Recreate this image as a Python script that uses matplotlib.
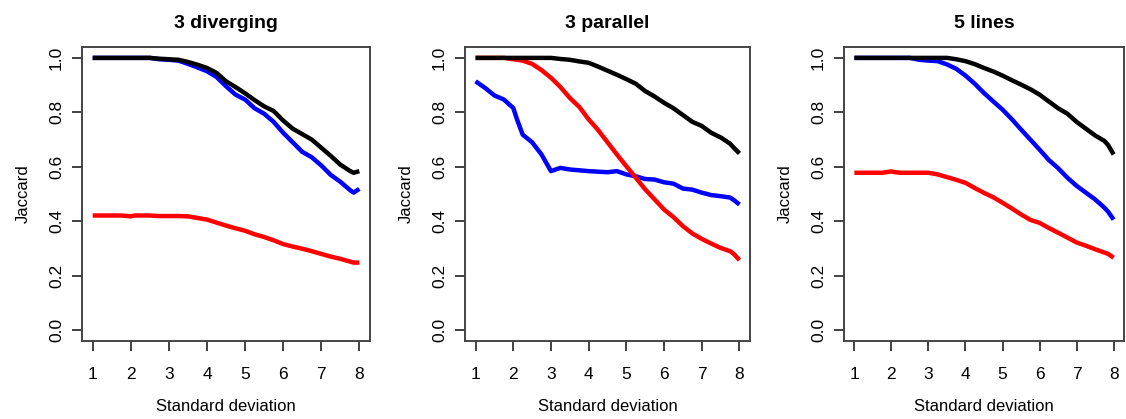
import matplotlib
matplotlib.use("Agg")
from matplotlib import pyplot as plt
import numpy as np

# x grid (standard deviation), same for every series
sd = [1.0, 1.25, 1.5, 1.75, 2.0, 2.1, 2.25, 2.5, 2.75, 3.0, 3.25, 3.5, 3.75, 4.0, 4.25, 4.5,
      4.75, 5.0, 5.25, 5.5, 5.75, 6.0, 6.25, 6.5, 6.75, 7.0, 7.25, 7.5, 7.75, 7.85, 8.0]

# 3 diverging
div_black = [1.0, 1.0, 1.0, 1.0, 1.0, 1.0, 1.0, 1.0, 0.997, 0.995, 0.993, 0.985, 0.975, 0.963,
             0.945, 0.914, 0.893, 0.870, 0.845, 0.822, 0.805, 0.770, 0.740, 0.720, 0.700, 0.670,
             0.640, 0.608, 0.585, 0.578, 0.584]
div_blue = [1.0, 1.0, 1.0, 1.0, 1.0, 1.0, 1.0, 1.0, 0.995, 0.993, 0.99, 0.978, 0.965, 0.951,
            0.930, 0.896, 0.865, 0.847, 0.815, 0.795, 0.765, 0.725, 0.690, 0.655, 0.635, 0.605,
            0.570, 0.545, 0.515, 0.505, 0.519]
div_red = [0.421, 0.421, 0.421, 0.421, 0.418, 0.421, 0.421, 0.421, 0.419, 0.419, 0.419, 0.418,
           0.412, 0.406, 0.395, 0.384, 0.374, 0.365, 0.352, 0.342, 0.330, 0.316, 0.307, 0.299,
           0.290, 0.280, 0.270, 0.262, 0.252, 0.248, 0.248]

# 3 parallel
par_black = [1.0, 1.0, 1.0, 1.0, 1.0, 1.0, 1.0, 1.0, 1.0, 1.0, 0.996, 0.993, 0.987, 0.982,
             0.968, 0.953, 0.938, 0.922, 0.905, 0.878, 0.858, 0.835, 0.815, 0.790, 0.765, 0.750,
             0.725, 0.708, 0.685, 0.670, 0.649]
par_blue = [0.914, 0.890, 0.862, 0.847, 0.816, 0.774, 0.718, 0.690, 0.645, 0.584, 0.596, 0.590,
            0.587, 0.584, 0.582, 0.580, 0.584, 0.572, 0.565, 0.555, 0.553, 0.543, 0.538, 0.520,
            0.516, 0.505, 0.496, 0.492, 0.487, 0.478, 0.461]
par_red = [1.0, 1.0, 1.0, 1.0, 0.995, 0.993, 0.99, 0.978, 0.955, 0.927, 0.893, 0.853, 0.820,
           0.774, 0.735, 0.690, 0.645, 0.602, 0.560, 0.517, 0.480, 0.443, 0.415, 0.382, 0.355,
           0.335, 0.318, 0.302, 0.290, 0.280, 0.257]

# 5 lines
five_black = [1.0, 1.0, 1.0, 1.0, 1.0, 1.0, 1.0, 1.0, 1.0, 1.0, 1.0, 1.0, 0.995, 0.988, 0.977,
              0.963, 0.950, 0.935, 0.918, 0.902, 0.885, 0.865, 0.840, 0.815, 0.795, 0.765,
              0.740, 0.715, 0.695, 0.680, 0.645]
five_blue = [1.0, 1.0, 1.0, 1.0, 1.0, 1.0, 1.0, 1.0, 0.993, 0.99, 0.988, 0.976, 0.960, 0.935,
             0.905, 0.871, 0.840, 0.810, 0.775, 0.737, 0.700, 0.663, 0.625, 0.595, 0.560, 0.530,
             0.505, 0.480, 0.450, 0.435, 0.406]
five_red = [0.578, 0.578, 0.578, 0.578, 0.583, 0.580, 0.578, 0.578, 0.578, 0.578, 0.572, 0.562,
            0.552, 0.541, 0.522, 0.504, 0.488, 0.468, 0.447, 0.425, 0.405, 0.394, 0.375, 0.358,
            0.340, 0.322, 0.310, 0.297, 0.285, 0.280, 0.266]

titles = ["3 diverging", "3 parallel", "5 lines"]
panels = [(div_black, div_blue, div_red),
          (par_black, par_blue, par_red),
          (five_black, five_blue, five_red)]

W, H = 1126, 419
fig = plt.figure(figsize=(W / 100, H / 100), dpi=100)

# axes boxes in pixels: left, right
boxes = [(82, 370), (465, 750), (844, 1124)]
top, bottom = 47, 341

sans = ["Liberation Sans", "DejaVu Sans"]
tick_font = {"family": sans, "size": 12.5}
for (l, r), title, (blk, blu, red) in zip(boxes, titles, panels):
    ax = fig.add_axes([l / W, 1 - bottom / H, (r - l) / W, (bottom - top) / H])
    ax.plot(sd, blu, color="#0000ff", lw=3.2, solid_capstyle="butt")
    ax.plot(sd, red, color="#ff0000", lw=3.2, solid_capstyle="butt")
    ax.plot(sd, blk, color="black", lw=3.2, solid_capstyle="butt")
    ax.set_xlim(0.72, 8.28)
    ax.set_ylim(-0.04, 1.04)
    ax.set_xticks(range(1, 9))
    ax.set_yticks([0.0, 0.2, 0.4, 0.6, 0.8, 1.0])
    ax.set_xticklabels([str(i) for i in range(1, 9)], fontdict=tick_font)
    ax.set_yticklabels(["0.0", "0.2", "0.4", "0.6", "0.8", "1.0"], fontdict=tick_font,
                       rotation=90, va="center")
    ax.tick_params(direction="out", length=7, width=1.3, color="#333333", pad=12)
    ax.tick_params(axis="y", pad=6)
    for s in ax.spines.values():
        s.set_linewidth(1.4)
        s.set_color("#444444")
    ax.set_xlabel("Standard deviation", family=sans, fontsize=12, labelpad=12)
    ax.set_ylabel("Jaccard", family=sans, fontsize=12, labelpad=13)
    ax.set_title(title, family=sans, fontweight="bold", fontsize=14, pad=14)

fig.savefig("out.png", dpi=100)
